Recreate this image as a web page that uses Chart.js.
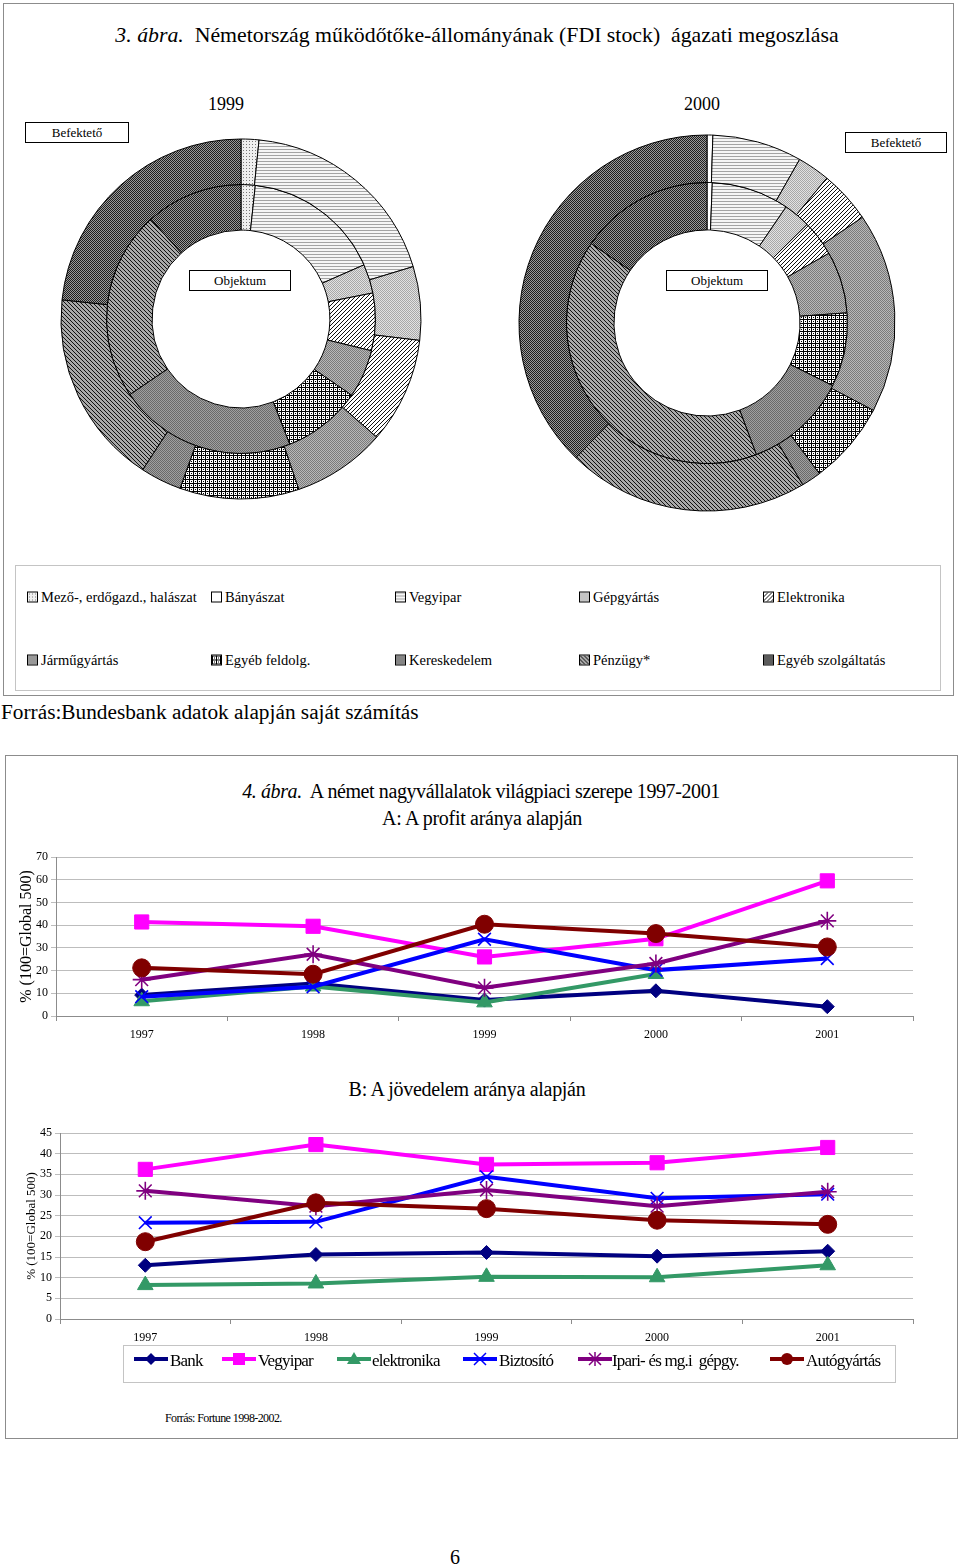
<!DOCTYPE html>
<html>
<head>
<meta charset="utf-8">
<script src="https://cdn.jsdelivr.net/npm/chart.js@4/dist/chart.umd.min.js"></script>
<style>
body { margin: 0; width: 960px; height: 1567px; position: relative; background: #fff;
       font-family: "Liberation Serif", "Times New Roman", serif; color: #000; }
.abs { position: absolute; white-space: nowrap; }
.mid { transform: translateY(-50%); }
.ctr { transform: translate(-50%, -50%); }
.frame { position: absolute; border: 1px solid #8c8c8c; box-sizing: border-box; }
.tag { position: absolute; border: 1px solid #000; background: #fff; font-size: 13px;
       text-align: center; line-height: 19px; box-sizing: border-box; }
.leg { position: absolute; font-size: 14.5px; white-space: nowrap; transform: translateY(-50%); }
.sw { display: inline-block; width: 9px; height: 9px; border: 1px solid #000; margin-right: 3px;
      vertical-align: -1px; }
.lb { position: absolute; font-size: 17px; letter-spacing: -0.8px; white-space: nowrap; transform: translateY(-50%); }
canvas.abs { position: absolute; }
</style>
</head>
<body>

<div class="frame" style="left:3px;top:3px;width:951px;height:693px"></div>
<div class="abs ctr" style="left:477px;top:35px;font-size:21.8px"><i>3. ábra.</i>&nbsp; Németország működőtőke-állományának (FDI stock)&nbsp; ágazati megoszlása</div>
<div class="abs ctr" style="left:226px;top:104px;font-size:18px">1999</div>
<div class="abs ctr" style="left:702px;top:104px;font-size:18px">2000</div>

<canvas id="donut1999" class="abs" width="400" height="400" style="left:41px;top:119px"></canvas>
<canvas id="donut2000" class="abs" width="400" height="400" style="left:507px;top:123px"></canvas>

<div class="tag" style="left:25px;top:122px;width:104px;height:21px">Befektető</div>
<div class="tag" style="left:845px;top:132px;width:102px;height:21px">Befektető</div>
<div class="tag" style="left:189px;top:270px;width:102px;height:21px">Objektum</div>
<div class="tag" style="left:666px;top:270px;width:102px;height:21px">Objektum</div>

<div class="frame" style="left:15px;top:565px;width:926px;height:126px;border-color:#c4c4c4"></div>
<div id="sectorLegend"></div>

<div class="abs mid" style="left:1px;top:712px;font-size:21.3px">Forrás:Bundesbank adatok alapján saját számítás</div>

<div class="frame" style="left:5px;top:755px;width:953px;height:684px"></div>
<div class="abs ctr" style="left:481px;top:791px;font-size:20px;letter-spacing:-0.4px"><i>4. ábra.</i>&nbsp; A német nagyvállalatok világpiaci szerepe 1997-2001</div>
<div class="abs ctr" style="left:482px;top:818px;font-size:20px;letter-spacing:-0.3px">A: A profit aránya alapján</div>

<canvas id="profitChart" class="abs" width="940" height="200" style="left:0;top:845px"></canvas>

<div class="abs ctr" style="left:467px;top:1089px;font-size:20px;letter-spacing:-0.3px">B: A jövedelem aránya alapján</div>

<canvas id="revenueChart" class="abs" width="940" height="230" style="left:0;top:1120px"></canvas>

<div class="frame" style="left:123px;top:1345px;width:773px;height:38px;border-color:#c4c4c4"></div>
<div id="seriesLegend"></div>

<div class="abs mid" style="left:165px;top:1418px;font-size:12px;letter-spacing:-0.6px">Forrás: Fortune 1998-2002.</div>
<div class="abs ctr" style="left:455px;top:1557px;font-size:20px">6</div>

<script>
// ágazatok (3. ábra)
const sectors = ['Mező-, erdőgazd., halászat', 'Bányászat', 'Vegyipar', 'Gépgyártás', 'Elektronika',
                 'Járműgyártás', 'Egyéb feldolg.', 'Kereskedelem', 'Pénzügy*', 'Egyéb szolgáltatás'];
const befekteto1999 = [1.6, 0, 18.7, 6.6, 9.5, 8.4, 10.7, 3.7, 17.5, 23.3];
const objektum1999  = [1.7, 0, 16.7, 3.5, 6.9, 5.8, 9.5, 21.4, 22.8, 11.7];
const befekteto2000 = [0, 0.5, 7.7, 2.8, 4.5, 17.2, 7.1, 1.7, 20.8, 37.7];
const objektum2000  = [0, 0.6, 8.9, 3.1, 4.1, 7.1, 8.5, 11.9, 40.2, 15.4];

// 4. ábra
const years = ['1997', '1998', '1999', '2000', '2001'];
const seriesNames = ['Bank', 'Vegyipar', 'elektronika', 'Biztosító', 'Ipari- és mg.i  gépgy.', 'Autógyártás'];

// A: profit
const bankA        = [9.2, 14.3, 7, 11.1, 4.1];
const vegyiparA    = [41.4, 39.5, 26, 34, 59.5];
const elektronikaA = [6.5, 13, 6, 18.5, null];
const biztositoA   = [8.5, 12.9, 33.8, 20.2, 25.3];
const ipariA       = [16, 27.2, 12.4, 23.1, 41.9];
const autoA        = [21.2, 18.4, 40.4, 36.3, 30.4];

// B: jövedelem
const bankB        = [13, 15.6, 16.1, 15.2, 16.4];
const vegyiparB    = [36.2, 42.2, 37.4, 37.8, 41.5];
const elektronikaB = [8.2, 8.6, 10.2, 10.1, 13];
const biztositoB   = [23.3, 23.5, 34.4, 29.2, 30.2];
const ipariB       = [31, 27.3, 31.2, 27.3, 30.8];
const autoB        = [18.7, 28.1, 26.7, 23.9, 22.9];

const yTicksA = [0, 10, 20, 30, 40, 50, 60, 70];
const yTicksB = [0, 5, 10, 15, 20, 25, 30, 35, 40, 45];

// --- mintázatok a szeletekhez ---
function tile(w, h, draw) {
    const c = document.createElement('canvas');
    c.width = w; c.height = h;
    draw(c.getContext('2d'));
    return c;
}
function checker(a, b) {
    return tile(2, 2, g => {
        g.fillStyle = b; g.fillRect(0, 0, 2, 2);
        g.fillStyle = a; g.fillRect(0, 0, 1, 1); g.fillRect(1, 1, 1, 1);
    });
}
function diag(fg, bg, up) {
    return tile(4, 4, g => {
        g.fillStyle = bg; g.fillRect(0, 0, 4, 4);
        g.fillStyle = fg;
        for (let i = 0; i < 4; i++) g.fillRect(i, up ? 3 - i : i, 1, 1);
    });
}
const tiles = [
    tile(3, 3, g => { g.fillStyle = '#efefef'; g.fillRect(0, 0, 3, 3); g.fillStyle = '#777'; g.fillRect(1, 1, 1, 1); }),
    tile(2, 2, g => { g.fillStyle = '#fff'; g.fillRect(0, 0, 2, 2); }),
    tile(4, 3, g => { g.fillStyle = '#f6f6f6'; g.fillRect(0, 0, 4, 3); g.fillStyle = '#a4a4a4'; g.fillRect(0, 0, 4, 1); }),
    checker('#a8a8a8', '#e2e2e2'),
    diag('#111', '#fff', true),
    checker('#7a7a7a', '#b8b8b8'),
    tile(4, 4, g => { g.fillStyle = '#fff'; g.fillRect(0, 0, 4, 4); g.fillStyle = '#000';
                      g.fillRect(0, 0, 4, 1); g.fillRect(0, 0, 1, 4); g.fillRect(2, 2, 1, 1); }),
    checker('#6a6a6a', '#a0a0a0'),
    diag('#111', '#a8a8a8', false),
    checker('#1e1e1e', '#9a9a9a')
];
const scratch = document.createElement('canvas').getContext('2d');
const patterns = tiles.map(t => scratch.createPattern(t, 'repeat'));

function donut(id, outer, inner, radius, holeRatio) {
    new Chart(document.getElementById(id), {
        type: 'doughnut',
        data: {
            labels: sectors,
            datasets: [
                { label: 'Befektető', data: outer, backgroundColor: patterns, borderColor: '#000', borderWidth: 1 },
                { label: 'Objektum', data: inner, backgroundColor: patterns, borderColor: '#000', borderWidth: 1 }
            ]
        },
        options: {
            responsive: false,
            animation: false,
            radius: radius,
            cutout: holeRatio,
            layout: { padding: 0 },
            plugins: { legend: { display: false }, tooltip: { enabled: false } }
        }
    });
}
donut('donut1999', befekteto1999, objektum1999, 180, '49.4%');
donut('donut2000', befekteto2000, objektum2000, 188, '49.5%');

// ágazati jelmagyarázat
const legX = [27, 211, 395, 579, 763];
const legY = [597, 660];
const sectorLegend = document.getElementById('sectorLegend');
sectors.forEach((name, i) => {
    const d = document.createElement('div');
    d.className = 'leg';
    d.style.left = legX[i % 5] + 'px';
    d.style.top = legY[Math.floor(i / 5)] + 'px';
    const s = document.createElement('span');
    s.className = 'sw';
    s.style.backgroundImage = 'url(' + tiles[i].toDataURL() + ')';
    d.appendChild(s);
    d.appendChild(document.createTextNode(name));
    sectorLegend.appendChild(d);
});

// --- vonaldiagramok ---
const seriesColors = ['#000080', '#ff00ff', '#339966', '#0000ff', '#800080', '#800000'];
const seriesPoints = ['rectRot', 'rect', 'triangle', 'crossRot', 'star', 'circle'];
const seriesRadius = [7, 10, 9, 9, 9, 9];

function lineDatasets(values) {
    return values.map((v, i) => ({
        label: seriesNames[i],
        data: v,
        borderColor: seriesColors[i],
        backgroundColor: seriesColors[i],
        pointBackgroundColor: seriesColors[i],
        pointBorderColor: seriesColors[i],
        pointStyle: seriesPoints[i],
        pointRadius: seriesRadius[i],
        pointBorderWidth: (seriesPoints[i] === 'crossRot' || seriesPoints[i] === 'star') ? 1.6 : 1,
        borderWidth: 4,
        tension: 0,
        order: values.length - i
    }));
}

function lineChart(id, values, ticks, opt) {
    new Chart(document.getElementById(id), {
        type: 'line',
        data: { labels: years, datasets: lineDatasets(values) },
        options: {
            responsive: false,
            animation: false,
            layout: { padding: { left: 0, right: opt.right, top: opt.top, bottom: 0 } },
            plugins: { legend: { display: false }, tooltip: { enabled: false } },
            scales: {
                x: {
                    offset: true,
                    grid: { drawOnChartArea: false, offset: true, tickLength: 5, color: '#8c8c8c' },
                    border: { color: '#8c8c8c' },
                    ticks: { color: '#000', padding: opt.xPad, font: { family: 'Liberation Serif', size: 12 } },
                    afterFit: s => { s.height = opt.xH; }
                },
                y: {
                    min: 0,
                    max: ticks[ticks.length - 1],
                    afterBuildTicks: s => { s.ticks = ticks.map(v => ({ value: v })); },
                    grid: { color: '#bdbdbd', tickLength: 5 },
                    border: { color: '#8c8c8c' },
                    ticks: { color: '#000', padding: 3, font: { family: 'Liberation Serif', size: 12 } },
                    title: {
                        display: true, text: '% (100=Global 500)', color: '#000',
                        font: { family: 'Liberation Serif', size: opt.titleSize },
                        padding: { top: opt.titlePad, bottom: 0 }
                    },
                    afterFit: s => { s.width = opt.yW; }
                }
            }
        }
    });
}

lineChart('profitChart', [bankA, vegyiparA, elektronikaA, biztositoA, ipariA, autoA], yTicksA,
          { right: 27, top: 12, xH: 29, xPad: 7, yW: 56, titleSize: 16, titlePad: 17 });
lineChart('revenueChart', [bankB, vegyiparB, elektronikaB, biztositoB, ipariB, autoB], yTicksB,
          { right: 27, top: 13, xH: 31, xPad: 7, yW: 60, titleSize: 13, titlePad: 24 });

// sorozatok jelmagyarázata
function legendIcon(color, shape) {
    const c = document.createElement('canvas');
    c.width = 34; c.height = 16;
    const g = c.getContext('2d');
    g.strokeStyle = color; g.fillStyle = color;
    g.lineWidth = 4;
    g.beginPath(); g.moveTo(0, 8); g.lineTo(34, 8); g.stroke();
    const x = 17, y = 8;
    g.lineWidth = 1.5;
    g.beginPath();
    if (shape === 'rectRot') { g.moveTo(x, y - 6); g.lineTo(x + 6, y); g.lineTo(x, y + 6); g.lineTo(x - 6, y); g.closePath(); g.fill(); }
    else if (shape === 'rect') { g.fillRect(x - 6, y - 6, 12, 12); }
    else if (shape === 'triangle') { g.moveTo(x, y - 7); g.lineTo(x + 7, y + 5); g.lineTo(x - 7, y + 5); g.closePath(); g.fill(); }
    else if (shape === 'crossRot') { g.moveTo(x - 6, y - 6); g.lineTo(x + 6, y + 6); g.moveTo(x + 6, y - 6); g.lineTo(x - 6, y + 6); g.stroke(); }
    else if (shape === 'star') { g.moveTo(x - 6, y - 6); g.lineTo(x + 6, y + 6); g.moveTo(x + 6, y - 6); g.lineTo(x - 6, y + 6);
                                 g.moveTo(x, y - 7); g.lineTo(x, y + 7); g.stroke(); }
    else { g.arc(x, y, 6, 0, Math.PI * 2); g.fill(); }
    return c;
}
const iconX = [134, 222, 337, 463, 578, 770];
const textX = [170, 258, 372, 499, 612, 806];
const seriesLegend = document.getElementById('seriesLegend');
seriesNames.forEach((name, i) => {
    const ic = legendIcon(seriesColors[i], seriesPoints[i]);
    ic.className = 'abs';
    ic.style.left = iconX[i] + 'px';
    ic.style.top = '1351px';
    seriesLegend.appendChild(ic);
    const t = document.createElement('div');
    t.className = 'lb';
    t.style.left = textX[i] + 'px';
    t.style.top = '1361px';
    t.textContent = name.replace('  ', '\u00a0 ');
    seriesLegend.appendChild(t);
});
</script>
</body>
</html>
